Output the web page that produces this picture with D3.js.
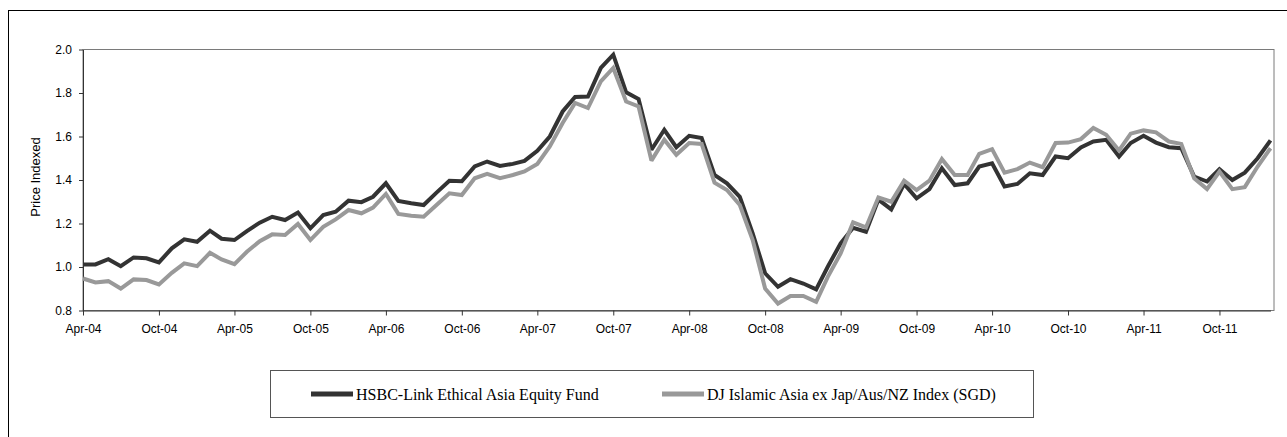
<!DOCTYPE html>
<html lang="en">

<head>
    <meta charset="UTF-8">
    <title>HSBC-Link Ethical Asia Equity Fund vs DJ Islamic Asia Index</title>
    <script src="https://d3js.org/d3.v7.min.js"></script>
    <style>
        body { margin: 0; background: #fff; }
        svg { display: block; }
    </style>
</head>

<body>
    <div id="chart-container"></div>
    <script>
        // monthly values, Apr-04 .. Feb-12
        const startMonth = 'Apr-04';
        const endMonth = 'Feb-12';

        const fundValues = [
            1.012, 1.012, 1.036, 1.004, 1.044, 1.040, 1.021, 1.086, 1.127, 1.116, 1.167, 1.130,
            1.124, 1.165, 1.204, 1.231, 1.216, 1.250, 1.178, 1.239, 1.254, 1.305, 1.298, 1.323,
            1.385, 1.304, 1.293, 1.285, 1.342, 1.396, 1.394, 1.462, 1.485, 1.465, 1.474, 1.488,
            1.534, 1.600, 1.715, 1.782, 1.784, 1.915, 1.976, 1.803, 1.772, 1.539, 1.631, 1.551,
            1.603, 1.593, 1.423, 1.385, 1.323, 1.155, 0.971, 0.909, 0.944, 0.924, 0.897, 1.001,
            1.109, 1.180, 1.162, 1.310, 1.265, 1.382, 1.316, 1.358, 1.454, 1.377, 1.385, 1.462,
            1.477, 1.370, 1.382, 1.431, 1.423, 1.508, 1.500, 1.550, 1.577, 1.585, 1.508, 1.570,
            1.603, 1.572, 1.551, 1.546, 1.416, 1.393, 1.450, 1.400, 1.434, 1.500, 1.582
        ];

        const indexValues = [
            0.947, 0.929, 0.935, 0.901, 0.943, 0.940, 0.920, 0.973, 1.017, 1.004, 1.065, 1.035,
            1.013, 1.070, 1.119, 1.150, 1.147, 1.198, 1.124, 1.185, 1.219, 1.262, 1.247, 1.273,
            1.336, 1.244, 1.236, 1.231, 1.285, 1.339, 1.331, 1.408, 1.428, 1.408, 1.423, 1.439,
            1.474, 1.554, 1.662, 1.754, 1.731, 1.853, 1.915, 1.761, 1.738, 1.489, 1.585, 1.516,
            1.570, 1.566, 1.388, 1.354, 1.285, 1.124, 0.901, 0.832, 0.867, 0.867, 0.840, 0.955,
            1.063, 1.205, 1.182, 1.320, 1.300, 1.397, 1.354, 1.397, 1.496, 1.423, 1.423, 1.520,
            1.542, 1.434, 1.450, 1.480, 1.459, 1.570, 1.572, 1.588, 1.639, 1.608, 1.536, 1.613,
            1.628, 1.619, 1.577, 1.566, 1.408, 1.358, 1.439, 1.358, 1.367, 1.462, 1.546
        ];

        const xTickLabels = ['Apr-04', 'Oct-04', 'Apr-05', 'Oct-05', 'Apr-06', 'Oct-06', 'Apr-07', 'Oct-07',
            'Apr-08', 'Oct-08', 'Apr-09', 'Oct-09', 'Apr-10', 'Oct-10', 'Apr-11', 'Oct-11'];
        const yTicks = [0.8, 1.0, 1.2, 1.4, 1.6, 1.8, 2.0];

        const seriesNames = ['HSBC-Link Ethical Asia Equity Fund', 'DJ Islamic Asia ex Jap/Aus/NZ Index (SGD)'];
        const seriesColors = ['#333333', '#999999'];

        const parseMonth = d3.timeParse('%b-%y');
        const months = d3.timeMonth.range(parseMonth(startMonth), d3.timeMonth.offset(parseMonth(endMonth), 1));

        const width = 1287, height = 437;
        const plot = { left: 83, top: 49.5, right: 1274, bottom: 310.5 };

        const svg = d3.select('#chart-container')
            .append('svg')
            .attr('width', width)
            .attr('height', height);

        // outer frame (only top and left edges are visible)
        svg.append('rect')
            .attr('x', 8.5)
            .attr('y', 10.5)
            .attr('width', width)
            .attr('height', height)
            .attr('fill', 'none')
            .attr('stroke', '#000')
            .attr('stroke-width', 1);

        const x = d3.scaleTime()
            .domain([months[0], months[months.length - 1]])
            .range([plot.left, 1270.5]);

        const y = d3.scaleLinear()
            .domain([0.8, 2.0])
            .range([plot.bottom, plot.top]);

        // plot area border
        svg.append('rect')
            .attr('x', plot.left)
            .attr('y', plot.top)
            .attr('width', plot.right - plot.left)
            .attr('height', plot.bottom - plot.top)
            .attr('fill', 'none')
            .attr('stroke', '#7a7a7a')
            .attr('stroke-width', 1);

        const xAxis = svg.append('g')
            .attr('transform', `translate(0,${plot.bottom})`)
            .call(d3.axisBottom(x)
                .tickValues(xTickLabels.map(parseMonth))
                .tickFormat(d3.timeFormat('%b-%y'))
                .tickSize(5)
                .tickSizeOuter(0));

        const yAxis = svg.append('g')
            .attr('transform', `translate(${plot.left},0)`)
            .call(d3.axisLeft(y)
                .tickValues(yTicks)
                .tickFormat(d3.format('.1f'))
                .tickSize(4)
                .tickSizeOuter(0));

        [xAxis, yAxis].forEach(ax => {
            ax.select('.domain').attr('stroke', '#333');
            ax.selectAll('.tick line').attr('stroke', '#333');
            ax.selectAll('.tick text')
                .attr('fill', '#000')
                .attr('font-family', 'Liberation Sans, Arial, sans-serif')
                .attr('font-size', '12px');
        });
        xAxis.selectAll('.tick text').attr('dy', '1.2em');
        yAxis.selectAll('.tick text').attr('x', -11);

        svg.append('text')
            .attr('transform', 'translate(40,177) rotate(-90)')
            .attr('text-anchor', 'middle')
            .attr('font-family', 'Liberation Sans, Arial, sans-serif')
            .attr('font-size', '13px')
            .attr('fill', '#000')
            .text('Price Indexed');

        const line = d3.line()
            .x((d, i) => x(months[i]))
            .y(d => y(d));

        [fundValues, indexValues].forEach((values, k) => {
            svg.append('path')
                .datum(values)
                .attr('d', line)
                .attr('fill', 'none')
                .attr('stroke', seriesColors[k])
                .attr('stroke-width', 4)
                .attr('stroke-linejoin', 'miter')
                .attr('stroke-miterlimit', 2);
        });

        // legend
        const legend = svg.append('g');
        legend.append('rect')
            .attr('x', 270.5)
            .attr('y', 370.5)
            .attr('width', 763)
            .attr('height', 47)
            .attr('fill', '#fff')
            .attr('stroke', '#555')
            .attr('stroke-width', 1);

        const legendX = [311, 662];
        seriesNames.forEach((name, k) => {
            legend.append('rect')
                .attr('x', legendX[k])
                .attr('y', 391.5)
                .attr('width', 42)
                .attr('height', 5)
                .attr('fill', seriesColors[k]);
            legend.append('text')
                .attr('x', legendX[k] + 45)
                .attr('y', 400)
                .attr('font-family', 'Liberation Serif, Times New Roman, serif')
                .attr('font-size', '16px')
                .attr('fill', '#000')
                .text(name);
        });
    </script>
</body>

</html>
